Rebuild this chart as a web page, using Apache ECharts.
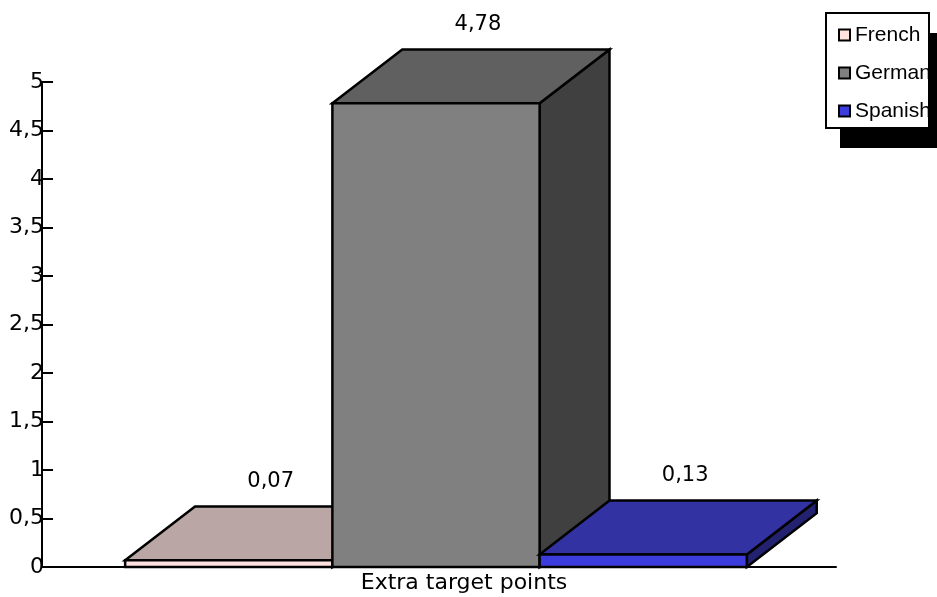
<!DOCTYPE html>
<html>
<head>
<meta charset="utf-8">
<script src="https://cdn.jsdelivr.net/npm/echarts@6/dist/echarts.min.js"></script>
<style>
  html, body { margin: 0; padding: 0; background: #ffffff; }
  #chart { width: 937px; height: 597px; }
</style>
</head>
<body>
<div id="chart"></div>
<script>
// Chart data
const categories = ['Extra target points'];
const seriesNames = ['French', 'German', 'Spanish'];
const frenchValues = [0.07];
const germanValues = [4.78];
const spanishValues = [0.13];
const yAxisMin = 0;
const yAxisMax = 5;
const yAxisStep = 0.5;

// Face shading for each block: front, top, side
const faceColors = [
  { front: '#ffe2e0', top: '#bba6a6', side: '#8a7a7a' },
  { front: '#808080', top: '#606060', side: '#404040' },
  { front: '#3c3cdc', top: '#3232a2', side: '#222270' }
];

const FONT = '"DejaVu Sans", "Liberation Sans", sans-serif';
const LEGEND_FONT = '"Liberation Sans", Arial, sans-serif';

function fmt(v, digits) {
  return v.toFixed(digits).replace('.', ',');
}

// Draws one extruded block per data item, positioned from the axis scales
function renderBlock(params, api) {
  const idx = api.value(0);
  const v = api.value(1);
  const base = api.coord([idx, 0]);
  const topPt = api.coord([idx, v]);
  const band = api.size([1, 0])[0];
  const w = band * 0.261;
  const dx = band * 0.088;
  const dy = dx * 0.77;
  const slot = params.seriesIndex - 1;
  const x0 = base[0] + (slot - 0.5) * w - 3;
  const x1 = x0 + w;
  const yb = base[1];
  const yt = topPt[1];
  const c = faceColors[params.seriesIndex];
  const stroke = { stroke: '#000', lineWidth: 2.5, lineJoin: 'miter' };
  return {
    type: 'group',
    children: [
      {
        type: 'polygon',
        shape: { points: [[x1, yt], [x1 + dx, yt - dy], [x1 + dx, yb - dy], [x1, yb]] },
        style: Object.assign({ fill: c.side }, stroke)
      },
      {
        type: 'polygon',
        shape: { points: [[x0, yt], [x0 + dx, yt - dy], [x1 + dx, yt - dy], [x1, yt]] },
        style: Object.assign({ fill: c.top }, stroke)
      },
      {
        type: 'rect',
        shape: { x: x0, y: yt, width: w, height: yb - yt },
        style: Object.assign({ fill: c.front }, stroke)
      },
      {
        type: 'text',
        x: (x0 + x1) / 2 + dx / 2 + 7,
        y: yt - dy - 25,
        style: {
          text: fmt(v, 2),
          fill: '#000',
          font: '21px ' + FONT,
          align: 'center',
          verticalAlign: 'middle'
        }
      }
    ]
  };
}

const valueSets = [frenchValues, germanValues, spanishValues];

const chart = echarts.init(document.getElementById('chart'), null, { renderer: 'canvas' });

chart.setOption({
  animation: false,
  backgroundColor: '#ffffff',
  grid: { left: 42, right: 101, top: 82, bottom: 30, containLabel: false },
  // Legend frame with its solid drop shadow
  graphic: [
    {
      type: 'rect',
      z: 1,
      shape: { x: 840, y: 33, width: 103, height: 115 },
      style: { fill: '#000000' }
    },
    {
      type: 'rect',
      z: 1,
      shape: { x: 826, y: 13, width: 103, height: 115 },
      style: { fill: '#ffffff', stroke: '#000000', lineWidth: 2 }
    }
  ],
  legend: {
    orient: 'vertical',
    left: 838,
    top: 23,
    padding: 0,
    itemGap: 14,
    itemWidth: 11,
    itemHeight: 11,
    icon: 'rect',
    z: 5,
    itemStyle: { borderColor: '#000000', borderWidth: 2 },
    textStyle: {
      fontFamily: LEGEND_FONT,
      fontSize: 21,
      lineHeight: 24,
      color: '#000'
    },
    data: seriesNames
  },
  xAxis: {
    type: 'category',
    data: categories,
    boundaryGap: true,
    axisLine: { lineStyle: { color: '#000', width: 2 } },
    axisTick: { inside: true, length: 12, lineStyle: { color: '#000', width: 2 } },
    axisLabel: {
      color: '#000',
      fontFamily: FONT,
      fontSize: 22,
      margin: 5,
      padding: [0, 0, 0, 50]
    },
    splitLine: { show: false }
  },
  yAxis: {
    type: 'value',
    min: yAxisMin,
    max: yAxisMax,
    interval: yAxisStep,
    axisLine: { show: true, lineStyle: { color: '#000', width: 2 } },
    axisTick: { show: true, inside: true, length: 11, lineStyle: { color: '#000', width: 2 } },
    axisLabel: {
      color: '#000',
      fontFamily: FONT,
      fontSize: 22,
      margin: -2,
      padding: [2, 0, 0, 0],
      formatter: function (v) { return String(v).replace('.', ','); }
    },
    splitLine: { show: false }
  },
  series: seriesNames.map(function (name, i) {
    return {
      name: name,
      type: 'custom',
      renderItem: renderBlock,
      itemStyle: { color: faceColors[i].front, borderColor: '#000', borderWidth: 2 },
      encode: { x: 0, y: 1 },
      data: valueSets[i].map(function (v, k) { return [k, v]; }),
      z: 2 + i
    };
  })
});
</script>
</body>
</html>
